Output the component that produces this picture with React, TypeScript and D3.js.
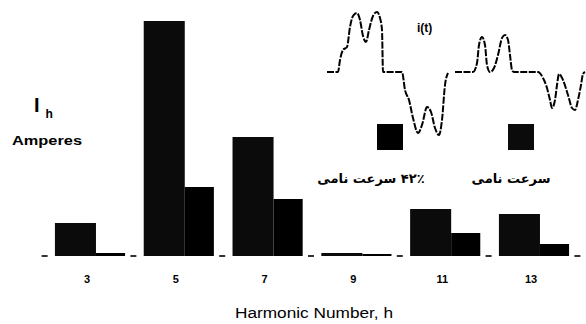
import { useEffect, useRef } from 'react'
import * as d3 from 'd3'

// harmonic orders on the x axis
const harmonics = ['3', '5', '7', '9', '11', '13']
// harmonic current (no axis values given, arbitrary units)
const ratedSpeed = [33, 235, 119, 3, 47, 42]
const speed42 = [3, 69, 57, 2, 23, 12]

const legendLabels = ['۴۲٪ سرعت نامی', 'سرعت نامی']

// inset waveform i(t): time and current samples, arbitrary units
const wave1T = [0, 11, 13, 16, 20, 23, 26, 30, 33, 36, 39, 42, 46, 50, 53, 55, 56, 57, 75, 78, 82, 86, 91, 95, 100, 104, 108, 112, 115, 118, 121]
const wave1I = [0, 0, 12, 22, 25, 45, 56, 59, 52, 36, 30, 42, 56, 60, 54, 42, 0, 0, 0, -18, -28, -46, -61, -53, -35, -40, -56, -63, -48, -13, -1]
const wave2T = [128, 146, 150, 152, 155, 158, 160, 163, 167, 171, 175, 178, 181, 183, 185, 187, 211, 216, 220, 223, 225, 228, 230, 232, 236, 241, 245, 248, 251, 254, 256, 258]
const wave2I = [0, 0, 9, 27, 35, 27, 7, 0, 4, 17, 34, 37, 32, 17, 2, 0, 0, -6, -16, -28, -36, -28, -13, -2, -8, -23, -36, -38, -28, -13, -2, 0]

const App = () => {
	const svgRef = useRef(null)

	useEffect(() => {
		const width = 586
		const height = 324
		const baseY = 256

		const svg = d3.select(svgRef.current)
		svg.selectAll('*').remove()
		svg.attr('width', width).attr('height', height)

		// group scale and split of each group into the two bars
		const x = d3
			.scaleBand()
			.domain(harmonics)
			.range([45.6, 578.4])
			.paddingInner(0.21)
			.paddingOuter(0.105)
		const split = 0.585
		const y = d3.scaleLinear().domain([0, 240]).range([baseY, baseY - 240])

		const rows = harmonics.map((h, i) => ({ h, rated: ratedSpeed[i], low: speed42[i] }))

		// rated speed bars (wider, left)
		svg
			.selectAll('.rated')
			.data(rows)
			.enter()
			.append('rect')
			.attr('class', 'rated')
			.attr('x', (d) => x(d.h))
			.attr('width', x.bandwidth() * split)
			.attr('y', (d) => y(d.rated))
			.attr('height', (d) => baseY - y(d.rated))
			.attr('fill', '#0b0b0b')

		// 42% rated speed bars (narrower, right)
		svg
			.selectAll('.low')
			.data(rows)
			.enter()
			.append('rect')
			.attr('class', 'low')
			.attr('x', (d) => x(d.h) + x.bandwidth() * split)
			.attr('width', x.bandwidth() * (1 - split))
			.attr('y', (d) => y(d.low))
			.attr('height', (d) => baseY - y(d.low))
			.attr('fill', '#000')

		// small marks on the baseline between the groups
		const step = x.step()
		const marks = d3.range(harmonics.length + 1).map((k) => 45.6 + k * step)
		svg
			.selectAll('.mark')
			.data(marks)
			.enter()
			.append('line')
			.attr('class', 'mark')
			.attr('x1', (d) => d - 4)
			.attr('x2', (d) => d + 2)
			.attr('y1', baseY)
			.attr('y2', baseY)
			.attr('stroke', '#000')
			.attr('stroke-width', 1.6)

		// tick labels
		svg
			.selectAll('.tick')
			.data(harmonics)
			.enter()
			.append('text')
			.attr('class', 'tick')
			.attr('x', (d) => x(d) + x.bandwidth() / 2 - 3)
			.attr('y', 283)
			.attr('text-anchor', 'middle')
			.style('font-family', 'Liberation Sans, Arial, sans-serif')
			.style('font-weight', 'bold')
			.style('font-size', '11px')
			.text((d) => d)

		// x axis title
		svg
			.append('text')
			.attr('x', 235)
			.attr('y', 318)
			.attr('textLength', 158)
			.attr('lengthAdjust', 'spacingAndGlyphs')
			.style('font-family', 'Liberation Sans, Arial, sans-serif')
			.style('font-size', '14px')
			.text('Harmonic Number, h')

		// y axis title
		const yTitle = svg
			.append('text')
			.attr('x', 34)
			.attr('y', 112)
			.style('font-family', 'Liberation Sans, Arial, sans-serif')
			.style('font-weight', 'bold')
		yTitle.append('tspan').style('font-size', '20px').text('I')
		yTitle.append('tspan').attr('dx', 6).attr('dy', 6).style('font-size', '12px').text('h')

		svg
			.append('text')
			.attr('x', 12)
			.attr('y', 145)
			.attr('textLength', 70)
			.attr('lengthAdjust', 'spacingAndGlyphs')
			.style('font-family', 'Liberation Sans, Arial, sans-serif')
			.style('font-weight', 'bold')
			.style('font-size', '12px')
			.text('Amperes')

		// inset waveform
		const xw = d3.scaleLinear().domain([0, 258]).range([327, 585])
		const yw = d3.scaleLinear().domain([-63, 60]).range([135, 12])
		const line = d3
			.line()
			.x((d) => xw(d[0]))
			.y((d) => yw(d[1]))
			.curve(d3.curveMonotoneX)
		const waves = [
			d3.zip(wave1T, wave1I),
			d3.zip(wave2T, wave2I),
		]
		svg
			.selectAll('.wave')
			.data(waves)
			.enter()
			.append('path')
			.attr('class', 'wave')
			.attr('d', (d) => line(d))
			.attr('fill', 'none')
			.attr('stroke', '#000')
			.attr('stroke-width', 2)
			.attr('stroke-dasharray', '7,1.5')

		svg
			.append('text')
			.attr('x', 417)
			.attr('y', 32)
			.style('font-family', 'Liberation Sans, Arial, sans-serif')
			.style('font-weight', 'bold')
			.style('font-size', '12px')
			.text('i(t)')

		// legend
		const legend = [
			{ label: legendLabels[0], sx: 377, tx: 371, fill: '#000' },
			{ label: legendLabels[1], sx: 508, tx: 511, fill: '#0b0b0b' },
		]
		svg
			.selectAll('.swatch')
			.data(legend)
			.enter()
			.append('rect')
			.attr('class', 'swatch')
			.attr('x', (d) => d.sx)
			.attr('y', 124)
			.attr('width', 26)
			.attr('height', 26)
			.attr('fill', (d) => d.fill)

		svg
			.selectAll('.legend-text')
			.data(legend)
			.enter()
			.append('text')
			.attr('class', 'legend-text')
			.attr('x', (d) => d.tx)
			.attr('y', 183)
			.attr('text-anchor', 'middle')
			.attr('direction', 'rtl')
			.style('font-family', 'DejaVu Sans, sans-serif')
			.style('font-weight', 'bold')
			.style('font-size', '13px')
			.text((d) => d.label)
	}, [])

	return (
		<svg
			ref={svgRef}
			style={{ position: 'absolute', left: 0, top: 0, background: '#fff' }}
		></svg>
	)
}

export default App
